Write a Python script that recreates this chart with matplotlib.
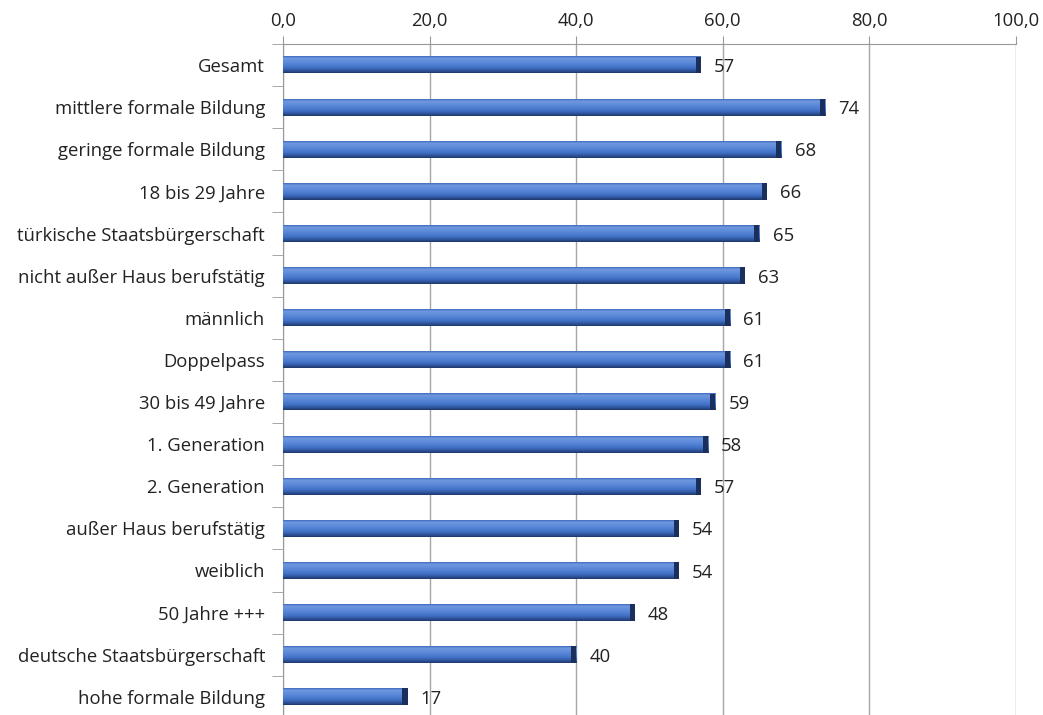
import matplotlib
matplotlib.use("Agg")
import matplotlib.pyplot as plt
import numpy as np
from matplotlib.colors import LinearSegmentedColormap

categories = [
    "Gesamt",
    "mittlere formale Bildung",
    "geringe formale Bildung",
    "18 bis 29 Jahre",
    "türkische Staatsbürgerschaft",
    "nicht außer Haus berufstätig",
    "männlich",
    "Doppelpass",
    "30 bis 49 Jahre",
    "1. Generation",
    "2. Generation",
    "außer Haus berufstätig",
    "weiblich",
    "50 Jahre +++",
    "deutsche Staatsbürgerschaft",
    "hohe formale Bildung",
]
values = [57, 74, 68, 66, 65, 63, 61, 61, 59, 58, 57, 54, 54, 48, 40, 17]
xticks = [0, 20, 40, 60, 80, 100]

plt.rcParams['font.family'] = ['Open Sans', 'DejaVu Sans']

fig = plt.figure(figsize=(10.43, 7.15), dpi=100)
ax = fig.add_axes([0.2713, -0.004, 0.7027, 0.9425])

# bevelled bar look: vertical gradient from top (row 0) to bottom
bevel = LinearSegmentedColormap.from_list(
    "bevel",
    [(0.0, "#3f6cbf"), (0.12, "#6f98e0"), (0.4, "#5a88d8"),
     (0.7, "#4070c4"), (0.88, "#2c5096"), (1.0, "#1d3768")])
grad = np.linspace(0, 1, 64).reshape(-1, 1)

h = 0.40
ypos = np.arange(len(categories))
for y, v in zip(ypos, values):
    ax.imshow(grad, cmap=bevel, extent=[0, v, y + h / 2, y - h / 2],
              aspect='auto', interpolation='bilinear', zorder=3)
    ax.barh(y, 0.7, left=v - 0.7, height=h, color="#1a2f5c", zorder=4)
    ax.text(v + 1.8, y + 0.05, str(v), va='center', ha='left',
            fontsize=13.3, color='#222222')

ax.set_xlim(0, 100)
ax.set_ylim(len(categories) - 0.5, -0.5)

ax.xaxis.tick_top()
ax.set_xticks(xticks)
ax.set_xticklabels([f"{t:.1f}".replace(".", ",") for t in xticks])
ax.tick_params(axis='x', length=6, color='#999999', labelsize=13.3,
               labelcolor='#222222', pad=4)
ax.grid(axis='x', color='#a6a6a6', linewidth=1, zorder=0)

ax.set_yticks(ypos)
ax.set_yticklabels(categories)
ax.set_yticks(np.arange(len(categories) + 1) - 0.5, minor=True)
ax.tick_params(axis='y', which='major', length=0, labelsize=13.3,
               labelcolor='#222222', pad=13)
ax.tick_params(axis='y', which='minor', length=8, color='#999999')

for side in ['right', 'bottom']:
    ax.spines[side].set_visible(False)
for side in ['left', 'top']:
    ax.spines[side].set_color('#999999')

fig.savefig("out.png", dpi=100)
